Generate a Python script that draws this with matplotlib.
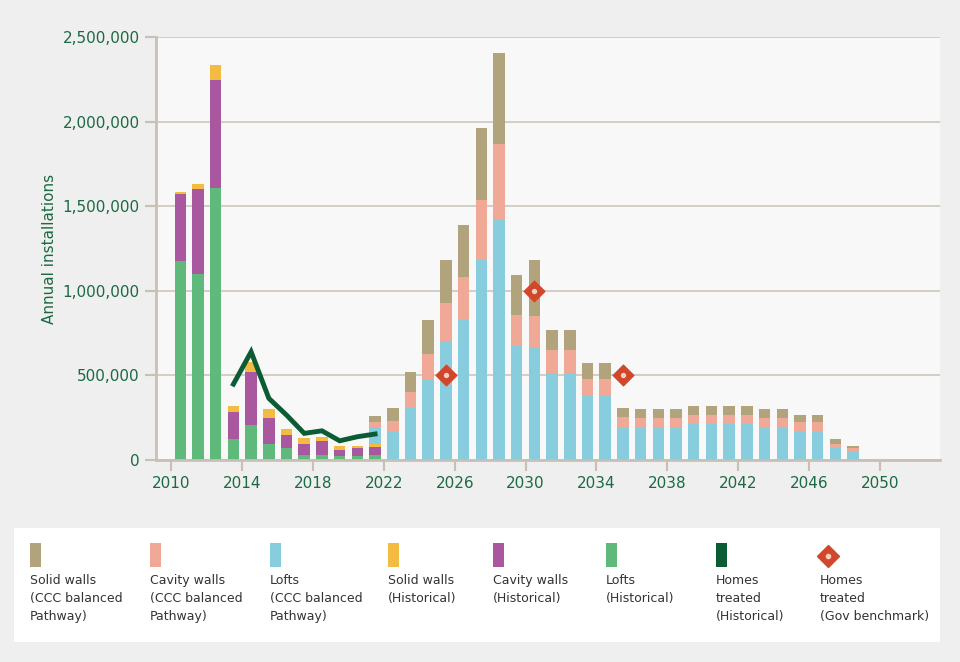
import numpy as np
import matplotlib.pyplot as plt
from matplotlib.patches import Rectangle, FancyBboxPatch

# historical (2010-2021)
hist_years = np.arange(2010, 2022)
hist_lofts = np.array([1176, 1099, 1606, 124, 209, 98, 69, 33, 33, 24, 24, 28]) * 1000
hist_cavity = np.array([396, 503, 640, 162, 309, 152, 81, 65, 79, 35, 45, 51]) * 1000
hist_solid = np.array([14, 29, 86, 35, 63, 49, 35, 30, 26, 24, 14, 16]) * 1000

# CCC balanced pathway (2021-2048)
path_years = np.arange(2021, 2049)
path_lofts = np.array([98, 173, 309, 479, 705, 833, 1182, 1424, 672, 668, 512, 512, 378, 378,
                       187, 193, 193, 193, 213, 213, 213, 213, 193, 193, 173, 173, 73, 55]) * 1000
path_cavity = np.array([34, 57, 91, 149, 223, 249, 355, 444, 183, 183, 138, 138, 101, 101,
                        67, 53, 53, 53, 53, 53, 53, 53, 53, 53, 52, 52, 24, 16]) * 1000
path_solid = np.array([35, 79, 122, 199, 256, 307, 427, 537, 240, 333, 120, 120, 94, 94,
                       55, 53, 53, 53, 51, 51, 51, 51, 53, 53, 39, 39, 27, 12]) * 1000

line_years = np.arange(2013, 2022)
homes_treated = np.array([449, 640, 365, 266, 158, 173, 114, 138, 154]) * 1000

bench_years = [2025, 2030, 2035]
bench_vals = [500000, 1000000, 500000]

C_SOLID, C_CAV, C_LOFT = "#b1a37b", "#f1a997", "#88cddd"
H_SOLID, H_CAV, H_LOFT = "#f3bb42", "#a9579f", "#5fb97b"
C_LINE, C_DIA = "#0b5c34", "#d2472b"
TXT = "#1b6a44"

fig = plt.figure(figsize=(9.6, 6.62), dpi=100, facecolor="#efefef")
ax = fig.add_axes([0.162, 0.305, 0.817, 0.639], facecolor="#f8f8f8")
w = 0.65

x = hist_years + 0.5
ax.bar(x, hist_lofts, w, color=H_LOFT)
ax.bar(x, hist_cavity, w, bottom=hist_lofts, color=H_CAV)
ax.bar(x, hist_solid, w, bottom=hist_lofts + hist_cavity, color=H_SOLID)

base = np.zeros(len(path_years))
base[0] = hist_lofts[-1] + hist_cavity[-1] + hist_solid[-1]
x = path_years + 0.5
ax.bar(x, path_lofts, w, bottom=base, color=C_LOFT)
ax.bar(x, path_cavity, w, bottom=base + path_lofts, color=C_CAV)
ax.bar(x, path_solid, w, bottom=base + path_lofts + path_cavity, color=C_SOLID)

ax.plot(line_years + 0.5, homes_treated, color=C_LINE, lw=3.5, solid_joinstyle="miter")
ax.scatter(np.array(bench_years) + 0.5, bench_vals, marker="D", s=110, color=C_DIA,
           edgecolors=C_DIA, zorder=5)
ax.scatter(np.array(bench_years) + 0.5, bench_vals, marker="o", s=8, color="#f0d0c0", zorder=6)

ax.set_xlim(2009.1, 2053.4)
ax.set_ylim(0, 2500000)
ax.set_xticks(np.arange(2010, 2051, 4))
ax.set_yticks(np.arange(0, 2500001, 500000))
ax.set_yticklabels([f"{v:,}" for v in np.arange(0, 2500001, 500000)])
ax.grid(axis="y", color="#cfc6bb", lw=1.2)
ax.set_axisbelow(True)
for s in ["top", "right"]:
    ax.spines[s].set_visible(False)
for s in ["left", "bottom"]:
    ax.spines[s].set_color("#c9c0b5")
    ax.spines[s].set_linewidth(2)
ax.tick_params(colors="#c9c0b5", labelcolor=TXT, labelsize=11, length=8, width=1.5)
ax.set_ylabel("Annual installations", color=TXT, fontsize=11)

# legend panel
fig.patches.append(Rectangle((14/960, 1-642/662), 926/960, 114/662, transform=fig.transFigure,
                             facecolor="white", edgecolor="none"))
items = [(C_SOLID, "Solid walls\n(CCC balanced\nPathway)"),
         (C_CAV, "Cavity walls\n(CCC balanced\nPathway)"),
         (C_LOFT, "Lofts\n(CCC balanced\nPathway)"),
         (H_SOLID, "Solid walls\n(Historical)"),
         (H_CAV, "Cavity walls\n(Historical)"),
         (H_LOFT, "Lofts\n(Historical)"),
         (C_LINE, "Homes\ntreated\n(Historical)"),
         (None, "Homes\ntreated\n(Gov benchmark)")]
xs = [30, 150, 270, 388, 493, 606, 716, 820]
for xp, (c, lab) in zip(xs, items):
    if c is not None:
        fig.patches.append(Rectangle((xp/960, 1-567/662), 11/960, 24/662, transform=fig.transFigure,
                                     facecolor=c, edgecolor="none"))
    else:
        fig.add_artist(plt.Line2D([(xp+8)/960], [1-556/662], marker="D", ms=11, color=C_DIA,
                                  transform=fig.transFigure))
        fig.add_artist(plt.Line2D([(xp+8)/960], [1-556/662], marker="o", ms=3, color="#f0d0c0",
                                  transform=fig.transFigure))
    fig.text(xp/960, 1-574/662, lab, va="top", ha="left", fontsize=9, color="#333333",
             linespacing=1.5)

fig.savefig("out.png", dpi=100, facecolor=fig.get_facecolor())
